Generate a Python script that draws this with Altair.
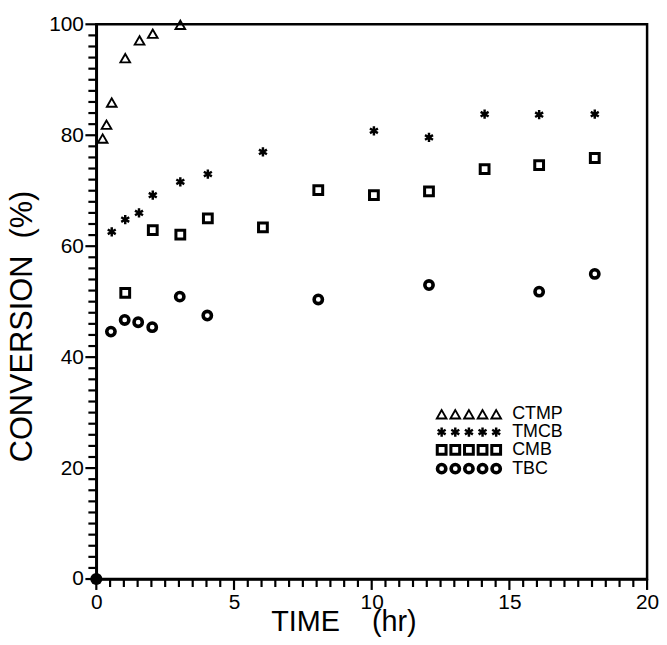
import altair as alt
import pandas as pd

# ---- data ----
series_names = ["CTMP", "TMCB", "CMB", "TBC"]

ctmp_time = [0.23, 0.37, 0.56, 1.05, 1.57, 2.05, 3.05]
ctmp_conv = [79.4, 81.9, 85.9, 93.9, 97.1, 98.3, 99.9]

tmcb_time = [0.56, 1.05, 1.55, 2.05, 3.05, 4.05, 6.05, 10.08, 12.08, 14.1, 16.08, 18.1]
tmcb_conv = [62.6, 64.8, 66.0, 69.2, 71.6, 73.0, 77.0, 80.8, 79.6, 83.8, 83.7, 83.8]

cmb_time = [1.05, 2.05, 3.05, 4.05, 6.05, 8.06, 10.08, 12.08, 14.1, 16.08, 18.1]
cmb_conv = [51.6, 62.9, 62.1, 65.0, 63.4, 70.1, 69.2, 69.9, 73.9, 74.6, 75.9]

tbc_time = [0.53, 1.03, 1.52, 2.03, 3.03, 4.03, 8.06, 12.08, 16.08, 18.1]
tbc_conv = [44.6, 46.7, 46.3, 45.4, 50.9, 47.5, 50.4, 53.0, 51.8, 55.0]

origin_time = [0]
origin_conv = [0]

x_major = [0, 5, 10, 15, 20]
y_major = [0, 20, 40, 60, 80, 100]
x_minor = [i * 0.5 for i in range(41) if i % 10 != 0]
y_minor = [v for v in range(0, 101, 2) if v % 20 != 0]

NBSP = "\u00a0"
x_title = "TIME" + NBSP * 4 + "(hr)"
y_title = "CONVERSION" + NBSP * 2 + "(%)"

# ---- build tables ----
rows = []
for name, ts, cs in zip(series_names,
                        [ctmp_time, tmcb_time, cmb_time, tbc_time],
                        [ctmp_conv, tmcb_conv, cmb_conv, tbc_conv]):
    for t, c in zip(ts, cs):
        rows.append({"series": name, "time": t, "conv": c})
df = pd.DataFrame(rows)

# legend: five repeated symbols plus label, placed inside the plot (data coords)
leg_y = [29.7, 26.5, 23.3, 19.9]
leg_x0, leg_dx, leg_label_x = 12.54, 0.495, 15.1
leg_rows = []
leg_text = []
for name, yy in zip(series_names, leg_y):
    for k in range(5):
        leg_rows.append({"series": name, "time": leg_x0 + k * leg_dx, "conv": yy})
    leg_text.append({"series": name, "time": leg_label_x, "conv": yy})
leg_df = pd.DataFrame(leg_rows)
leg_txt_df = pd.DataFrame(leg_text)
origin_df = pd.DataFrame({"time": origin_time, "conv": origin_conv})

ASTERISK = "M0,-1L0,1M-0.866,-0.5L0.866,0.5M-0.866,0.5L0.866,-0.5"
shape_scale = alt.Scale(domain=series_names,
                        range=["triangle-up", ASTERISK, "square", "circle"])
size_scale = alt.Scale(domain=series_names, range=[95, 70, 60, 70])
sw_scale = alt.Scale(domain=series_names, range=[1.9, 3.6, 2.1, 2.1])

FONT = "Liberation Sans"
xs = alt.Scale(domain=[0, 20], nice=False)
ys = alt.Scale(domain=[0, 100], nice=False)
H = 559

x_axis = alt.Axis(values=x_major, title=x_title, ticks=False,
                  labelPadding=13, labelFontSize=21, titleFontSize=29,
                  titleX=249, titleY=43, titleBaseline="middle",
                  titleAlign="center", grid=False, labelFlush=False)
y_axis = alt.Axis(values=y_major, title=y_title, ticks=False,
                  labelPadding=13, labelFontSize=21, titleFontSize=31,
                  titleX=-74, titleY=304, titleAngle=270,
                  titleBaseline="middle", titleAlign="center",
                  grid=False, labelFlush=False)

def X(field):
    return alt.X(field, scale=xs, axis=x_axis)

def Y(field):
    return alt.Y(field, scale=ys, axis=y_axis)

points = alt.Chart(df).mark_point(filled=False, color="black", opacity=1, clip=False).encode(
    x=X("time:Q"), y=Y("conv:Q"),
    shape=alt.Shape("series:N", scale=shape_scale, legend=None),
    size=alt.Size("series:N", scale=size_scale, legend=None),
    strokeWidth=alt.StrokeWidth("series:N", scale=sw_scale, legend=None),
)

# tick marks drawn as short rules at the axis values
def xticks(vals, length):
    return alt.Chart(pd.DataFrame({"v": vals})).mark_rule(
        color="black", strokeWidth=2.2, clip=False).encode(
        x=X("v:Q"), y=alt.value(H), y2=alt.value(H + length))

def yticks(vals, length):
    return alt.Chart(pd.DataFrame({"v": vals})).mark_rule(
        color="black", strokeWidth=2.2, clip=False).encode(
        y=Y("v:Q"), x=alt.value(0), x2=alt.value(-length))

ticks = [xticks(x_major, 11), xticks(x_minor, 8), yticks(y_major, 11), yticks(y_minor, 8)]

origin = alt.Chart(origin_df).mark_circle(color="black", size=150, opacity=1, clip=False).encode(
    x=X("time:Q"), y=Y("conv:Q"),
)

legend_pts = alt.Chart(leg_df).mark_point(filled=False, color="black", opacity=1).encode(
    x=X("time:Q"), y=Y("conv:Q"),
    shape=alt.Shape("series:N", scale=shape_scale, legend=None),
    size=alt.Size("series:N", scale=size_scale, legend=None),
    strokeWidth=alt.StrokeWidth("series:N", scale=sw_scale, legend=None),
)

legend_txt = alt.Chart(leg_txt_df).mark_text(
    align="left", baseline="middle", font=FONT, fontSize=18, color="black"
).encode(
    x=X("time:Q"), y=Y("conv:Q"),
    text="series:N",
)

chart = alt.layer(points, *ticks, origin, legend_pts, legend_txt).properties(
    width=555, height=H,
    autosize=alt.AutoSizeParams(type="none"),
    padding={"left": 89, "top": 14, "right": 12, "bottom": 58},
).configure_view(
    stroke="black", strokeWidth=2.5
).configure_axis(
    domainColor="black", domainWidth=2.5,
    labelColor="black", titleColor="black", labelFont=FONT, titleFont=FONT,
    titleFontWeight="normal"
)

chart.save("out.html", embed_options={"renderer": "svg", "actions": False})
